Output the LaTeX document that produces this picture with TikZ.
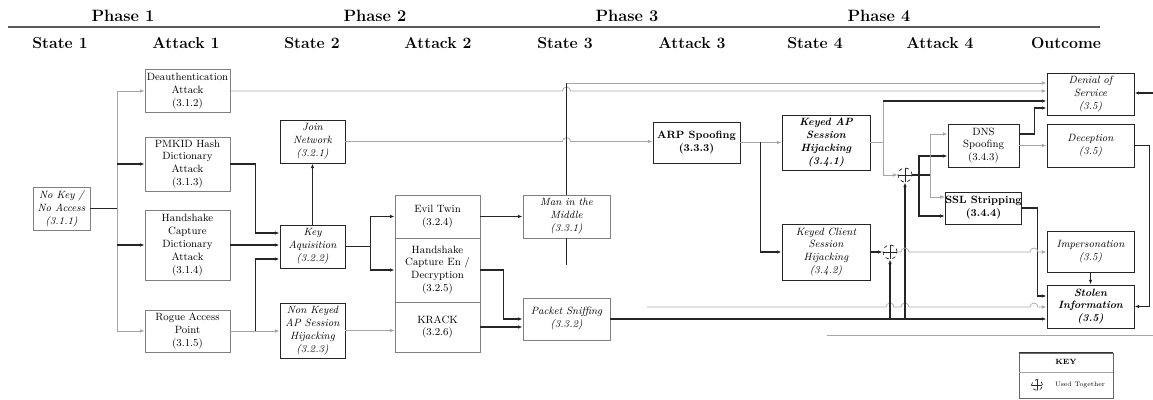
\documentclass[tikz,border=0pt]{standalone}
\usetikzlibrary{arrows.meta,calc}
\begin{document}
\begin{tikzpicture}[x=0.03cm,y=-0.03cm,
  ph/.style={font=\fontsize{14}{16}\selectfont\bfseries, inner sep=0pt},
  ch/.style={font=\fontsize{13.5}{15}\selectfont\bfseries, inner sep=0pt},
  box/.style={draw=black!85, line width=0.8pt, align=center, inner sep=0pt, font=\fontsize{9}{11}\selectfont},
  lbox/.style={box, draw=black!50, line width=0.6pt},
  st/.style={font=\fontsize{9}{11}\selectfont\itshape},
  bst/.style={font=\fontsize{9}{11}\selectfont\itshape\bfseries},
  bat/.style={font=\fontsize{9}{11}\selectfont\bfseries},
  dl/.style={line width=0.9pt, draw=black!85},
  ll/.style={line width=0.6pt, draw=black!35},
  arr/.style={-{Latex[length=4pt,width=3pt]}},
  junc/.style={circle, draw=black!85, dashed, line width=0.6pt, minimum size=0.42cm, inner sep=0pt,
    path picture={\draw[solid,line width=0.6pt] (path picture bounding box.north) -- (path picture bounding box.south)
      (path picture bounding box.west) -- (path picture bounding box.east);}},
]
\useasboundingbox (0,0) rectangle (1153,400);

% ---------- headers ----------
\node[ph] (ph1) at (123,16) {Phase 1};
\node[ph] (ph2) at (375,16) {Phase 2};
\node[ph] (ph3) at (627,16) {Phase 3};
\node[ph] (ph4) at (879,16) {Phase 4};
\draw[line width=1.2pt, black!65] (8,27) -- (1100,27);
\node[ch] (c1) at (60,43) {State 1};
\node[ch] (c2) at (186,43) {Attack 1};
\node[ch] (c3) at (312,43) {State 2};
\node[ch] (c4) at (438,43) {Attack 2};
\node[ch] (c5) at (565,43) {State 3};
\node[ch] (c6) at (692,43) {Attack 3};
\node[ch] (c7) at (815,43) {State 4};
\node[ch] (c8) at (940,43) {Attack 4};
\node[ch] (c9) at (1066,43) {Outcome};

% ---------- boxes ----------
\node[lbox, st, minimum width=1.71cm, minimum height=1.29cm] (nokey) at (61.5,208.5) {No Key /\\No Access\\(3.1.1)};

\node[lbox, minimum width=2.55cm, minimum height=1.29cm] (deauth) at (187.5,91) {Deauthentication\\Attack\\(3.1.2)};
\node[lbox, minimum width=2.55cm, minimum height=1.62cm] (pmkid) at (187.5,164) {PMKID Hash\\Dictionary\\Attack\\(3.1.3)};
\node[lbox, minimum width=2.55cm, minimum height=2.1cm] (hsdict) at (187.5,245) {Handshake\\Capture\\Dictionary\\Attack\\(3.1.4)};
\node[lbox, minimum width=2.55cm, minimum height=1.26cm] (rogue) at (187.5,331) {Rogue Access\\Point\\(3.1.5)};

\node[box, st, minimum width=1.95cm, minimum height=1.29cm] (join) at (312.5,141.5) {Join\\Network\\(3.2.1)};
\node[box, st, minimum width=1.95cm, minimum height=1.29cm] (keyaq) at (312.5,246.5) {Key\\Aquisition\\(3.2.2)};
\node[box, st, minimum width=1.95cm, minimum height=1.65cm] (nonkeyed) at (312.5,330.5) {Non Keyed\\AP Session\\Hijacking\\(3.2.3)};

\node[lbox, minimum width=2.55cm, minimum height=1.29cm] (evil) at (437.5,216.5) {Evil Twin\\(3.2.4)};
\node[lbox, minimum width=2.55cm, minimum height=1.92cm] (hsenc) at (437.5,270) {Handshake\\Capture En /\\Decryption\\(3.2.5)};
\node[lbox, minimum width=2.55cm, minimum height=1.5cm] (krack) at (437.5,327) {KRACK\\(3.2.6)};

\node[lbox, st, minimum width=2.61cm, minimum height=1.29cm] (mitm) at (566.5,216.5) {Man in the\\Middle\\(3.3.1)};
\node[lbox, st, minimum width=2.61cm, minimum height=1.26cm] (sniff) at (566.5,319) {Packet Sniffing\\(3.3.2)};

\node[box, bat, minimum width=2.61cm, minimum height=1.23cm] (arp) at (696.5,142.5) {ARP Spoofing\\(3.3.3)};

\node[box, bst, minimum width=2.64cm, minimum height=1.65cm] (keyedap) at (826,142.5) {Keyed AP\\Session\\Hijacking\\(3.4.1)};
\node[box, st, minimum width=2.64cm, minimum height=1.68cm] (keyedcl) at (826,252) {Keyed Client\\Session\\Hijacking\\(3.4.2)};

\node[box, minimum width=2.13cm, minimum height=1.29cm] (dns) at (983.5,145.5) {DNS\\Spoofing\\(3.4.3)};
\node[box, bat, minimum width=2.13cm, minimum height=0.96cm] (ssl) at (983.5,208) {SSL Stripping\\(3.4.4)};

\node[box, st, minimum width=2.61cm, minimum height=1.26cm] (dos) at (1090.5,94) {Denial of\\Service\\(3.5)};
\node[box, st, minimum width=2.61cm, minimum height=1.29cm] (decep) at (1090.5,145.5) {Deception\\(3.5)};
\node[box, st, minimum width=2.61cm, minimum height=1.23cm] (imper) at (1090.5,252) {Impersonation\\(3.5)};
\node[box, bst, minimum width=2.61cm, minimum height=1.29cm] (stolen) at (1090.5,306.5) {Stolen\\Information\\(3.5)};

\node[junc] (j1) at (905,175) {};
\node[junc] (j2) at (890,252) {};

% ---------- connectors: phase 1 ----------
\coordinate (b1) at (117,208.5);
\draw[dl] (nokey) -- (b1);
\draw[ll] (b1 |- deauth.west) -- (b1 |- rogue.west);
\draw[ll,arr] (b1 |- deauth.west) -- (deauth.west);
\draw[dl,arr] (b1 |- pmkid.west) -- (pmkid.west);
\draw[dl,arr] (b1 |- hsdict.west) -- (hsdict.west);
\draw[ll,arr] (b1 |- rogue.west) -- (rogue.west);

\draw[ll,arr] (deauth.east) -- (562.5,91) arc[start angle=180,end angle=0,radius=0.12cm] -- (dos.west |- deauth.east);

\draw[dl,arr] (pmkid.east) -- ++(25,0) |- ($(keyaq.west)+(0,-13.5)$);
\draw[dl,arr] (hsdict.east) -- (hsdict.east -| keyaq.west);
\draw[ll,arr] (rogue.east) -- (rogue.east -| nonkeyed.west);
\draw[dl,arr] (rogue.east) ++(25,0) |- ($(keyaq.west)+(0,12.5)$);

% ---------- phase 2 ----------
\draw[dl,arr] (keyaq.north) -- (join.south);
\draw[ll,arr] (join.east) -- (562.5,141.5) arc[start angle=180,end angle=0,radius=0.12cm] -- (arp.west |- join.east);
\draw[dl] (keyaq.east) -- ++(25,0) coordinate (k2);
\draw[dl,arr] (k2) |- (evil.west);
\draw[dl,arr] (k2) |- (hsenc.west);
\draw[ll,arr] (nonkeyed.east) -- (nonkeyed.east -| krack.west);

\draw[dl,arr] (evil.east) -- (mitm.west);
\draw[dl,arr] (hsenc.east) -- ++(23,0) |- (sniff.west);
\draw[dl,arr] (krack.east) -- (krack.east -| sniff.west);

% ---------- phase 3 ----------
\coordinate (m1) at (566.5,83);
\draw[dl] (mitm.north) -- (m1);
\draw[ll,arr] (m1) -- (dos.west |- m1);
\draw[dl] (mitm.south) -- ++(0,27);

\draw[ll,arr] (arp.east) -- (arp.east -| keyedap.west);
\draw[dl,arr] (arp.east) ++(20,0) |- (keyedcl.west);

\draw[dl,arr] (sniff.east) -- (sniff.east -| stolen.west);
\coordinate (l7) at (647,307);
\draw[ll,arr] (l7) -- (886,307) arc[start angle=180,end angle=0,radius=0.12cm]
  -- (901,307) arc[start angle=180,end angle=0,radius=0.12cm]
  -- (1030,307) arc[start angle=180,end angle=0,radius=0.12cm] -- (stolen.west |- l7);

% ---------- phase 4 ----------
\coordinate (k4t) at (883,101);
\coordinate (k4b) at (883,175);
\draw[ll] (keyedap.east) -- (keyedap.east -| k4t);
\draw[ll] (k4t) -- (k4b);
\draw[dl,arr] (k4t) -- (dos.west |- k4t);
\draw[ll,arr] (k4b) -- (j1.west);
\draw[dl,arr] (keyedcl.east) -- (j2.west);
\draw[dl,arr] (j1.south |- sniff.east) -- (j1.south);
\draw[dl,arr] (j2.south |- sniff.east) -- (j2.south);

\coordinate (vA) at (919,175);
\coordinate (vB) at (930,175);
\draw[dl] (j1.east) -- (vB);
\draw[dl,arr] (vA) |- ($(dns.west)+(0,10.5)$);
\draw[dl,arr] (vA) |- ($(ssl.west)+(0,8)$);
\draw[ll,arr] (vB) |- ($(dns.west)+(0,-11.5)$);
\draw[ll,arr] (vB) |- ($(ssl.west)+(0,-11)$);

\draw[dl,arr] ($(dns.east)+(0,-11.5)$) -- ++(15,0) |- ($(dos.west)+(0,14)$);
\draw[ll,arr] (dns.east) -- (decep.west);
\draw[dl,arr] (ssl.east) -- ++(15,0) |- ($(stolen.west)+(0,-10.5)$);

\draw[ll,arr] (j2.east) -- (901,252) arc[start angle=180,end angle=0,radius=0.12cm]
  -- (1030,252) arc[start angle=180,end angle=0,radius=0.12cm] -- (imper.west);

% ---------- outcomes ----------
\draw[dl,arr] (imper.south) -- (stolen.north);
\draw[dl,arr] (decep.east) -- ++(15,0) |- (stolen.east);
\coordinate (r1) at (1153,93);
\draw[dl,arr] (r1) -- (r1 -| dos.east);

\draw[ll] (827,335) -- (1153,335);

% ---------- key ----------
\node[draw=black!60, line width=0.6pt, minimum width=2.82cm, minimum height=1.35cm, inner sep=0pt] (key) at (1066,375.5) {};
\draw[line width=1pt, black!80] (key.north west) -- (key.north east);
\node[font=\fontsize{6.5}{8}\selectfont\bfseries, inner sep=0pt] (keyt) at (1066,362) {KEY};
\draw[ll] (key.west |- 0,372) -- (key.east |- 0,372);
\node[junc, minimum size=0.33cm] (kj) at (1037,385) {};
\node[font=\fontsize{5.5}{7}\selectfont, inner sep=0pt] (keyl) at (1080,385) {Used Together};
\end{tikzpicture}
\end{document}
